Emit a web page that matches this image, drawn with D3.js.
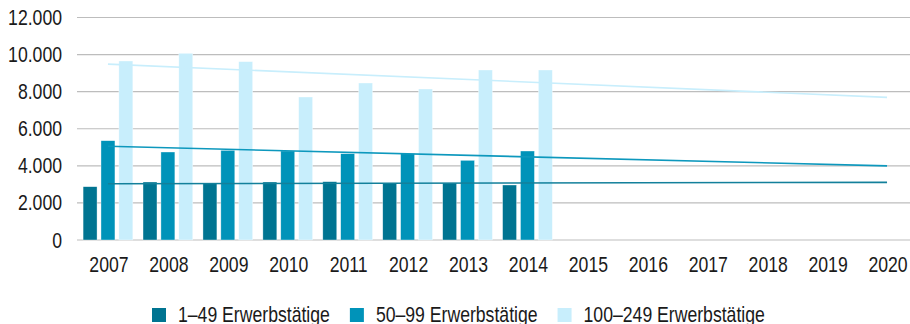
<!DOCTYPE html>
<html>
<head>
<meta charset="utf-8">
<script src="https://cdn.jsdelivr.net/npm/d3@7"></script>
<style>
  html, body { margin: 0; padding: 0; background: #fff; }
  svg { display: block; }
  text { font-family: "Liberation Sans", Arial, sans-serif; fill: #1a1a1a; }
</style>
</head>
<body>
<svg id="chart" width="910" height="324"></svg>
<script>
// Years on the x axis (bars exist for 2007–2014; trends run through 2020)
const years = [2007, 2008, 2009, 2010, 2011, 2012, 2013, 2014, 2015, 2016, 2017, 2018, 2019, 2020];
const dataYears = [2007, 2008, 2009, 2010, 2011, 2012, 2013, 2014];

// Series values (number of companies by size class)
const seriesNames = ["1–49 Erwerbstätige", "50–99 Erwerbstätige", "100–249 Erwerbstätige"];
const small  = [2875, 3128, 3037, 3128, 3146, 3074, 3074, 2967];
const medium = [5356, 4746, 4836, 4800, 4656, 4656, 4297, 4800];
const large  = [9655, 10070, 9620, 7713, 8468, 8144, 9169, 9169];

const yTicks = [0, 2000, 4000, 6000, 8000, 10000, 12000];
const colors = ["#007491", "#0093b9", "#c8eefc"];
const trendColors = ["#13809b", "#0d98bd", "#c8eefc"];

const seriesValues = [small, medium, large];

// Narrow type: regular sans compressed horizontally
const NARROW = 0.82;

const svg = d3.select("#chart");

const x = d3.scaleBand().domain(years).range([78, 917]).paddingInner(0.17).paddingOuter(0.085);
const xSub = d3.scaleBand().domain(d3.range(seriesNames.length)).range([0, x.bandwidth()]).paddingInner(0.22);
const y = d3.scaleLinear().domain([0, 12000]).range([240, 17.5]);

const fmt = d3.formatLocale({ decimal: ",", thousands: ".", grouping: [3], currency: ["", "€"] }).format(",");

function narrowText(parent, px, py, str, size, anchor) {
  const g = parent.append("g").attr("transform", `translate(${px},${py})`);
  return g.append("text")
    .attr("transform", `scale(${NARROW},1)`)
    .attr("text-anchor", anchor || "start")
    .attr("font-size", size)
    .text(str);
}

// Horizontal gridlines
svg.append("g")
  .selectAll("line")
  .data(yTicks)
  .join("line")
  .attr("x1", 77).attr("x2", 910)
  .attr("y1", d => y(d)).attr("y2", d => y(d))
  .attr("stroke", "#bdbdbd").attr("stroke-width", 1.2);

// Y axis labels
const yLab = svg.append("g");
yTicks.forEach(d => narrowText(yLab, 62, y(d) + 7.5, fmt(d), 21.5, "end"));

// X axis labels
const xLab = svg.append("g");
years.forEach(d => narrowText(xLab, x(d) + x.bandwidth() / 2 + 1, 271.5, d, 21.5, "middle"));

// Bars
seriesValues.forEach((vals, s) => {
  svg.append("g")
    .selectAll("rect")
    .data(vals.map((v, i) => ({ year: dataYears[i], value: v })))
    .join("rect")
    .attr("x", d => x(d.year) + xSub(s))
    .attr("width", xSub.bandwidth())
    .attr("y", d => y(d.value))
    .attr("height", d => y(0) - y(d.value))
    .attr("fill", colors[s])
    .attr("stroke", "rgba(255,255,255,0.6)")
    .attr("stroke-width", 0.6);
});

// Linear trend lines (least squares over the observed years), extended to 2020
seriesValues.forEach((vals, s) => {
  const mx = d3.mean(dataYears);
  const my = d3.mean(vals);
  let sxy = 0, sxx = 0;
  dataYears.forEach((yr, i) => { sxy += (yr - mx) * (vals[i] - my); sxx += (yr - mx) * (yr - mx); });
  const slope = sxy / sxx;
  const fit = yr => my + slope * (yr - mx);
  const first = years[0], last = years[years.length - 1];
  svg.append("line")
    .attr("x1", x(first) + x.bandwidth() / 2)
    .attr("x2", x(last) + x.bandwidth() / 2)
    .attr("y1", y(fit(first)))
    .attr("y2", y(fit(last)))
    .attr("stroke", trendColors[s])
    .attr("stroke-width", 1.6);
});

// Legend
const legend = svg.append("g");
let lx = 152;
seriesNames.forEach((name, s) => {
  legend.append("rect")
    .attr("x", lx).attr("y", 308)
    .attr("width", 14).attr("height", 14)
    .attr("fill", colors[s]);
  const t = narrowText(legend, lx + 26, 321.5, name, 21.5, "start");
  lx += 26 + t.node().getComputedTextLength() * NARROW + 20;
});
</script>
</body>
</html>
